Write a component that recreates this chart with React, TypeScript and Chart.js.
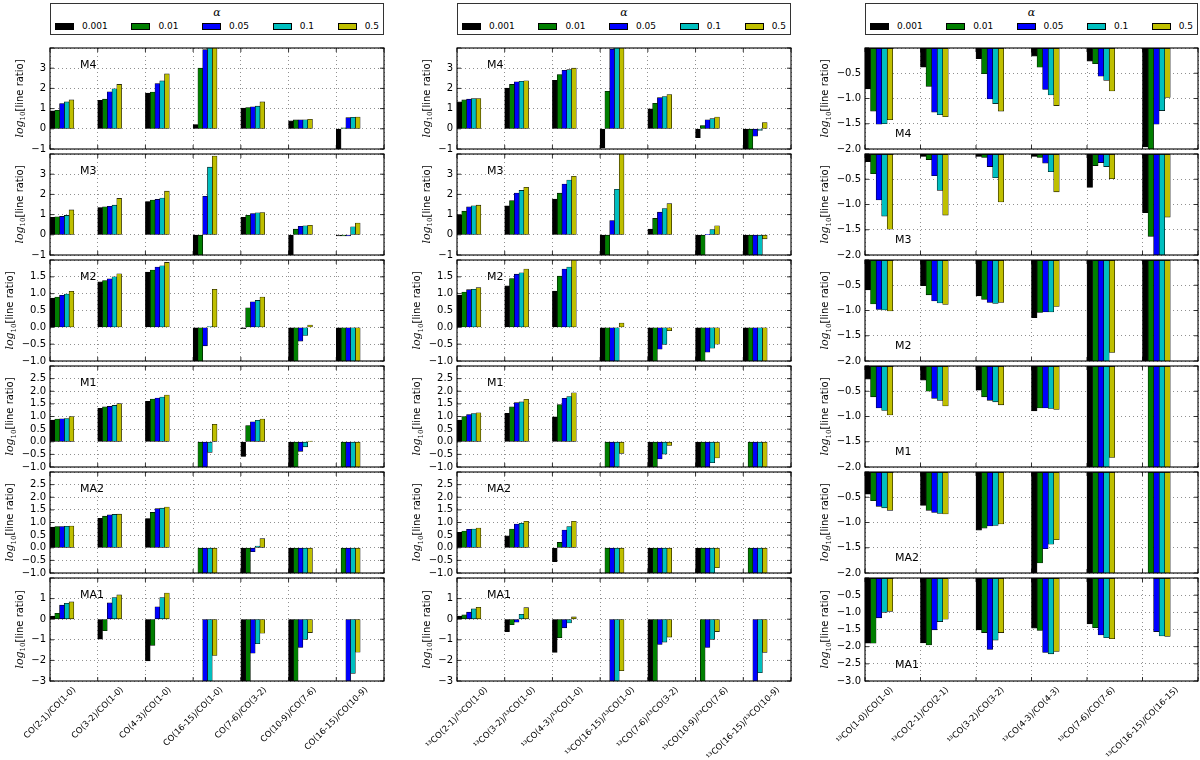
import { useEffect, useRef } from 'react'
import { Chart, registerables } from 'chart.js'

Chart.register(...registerables)
Chart.defaults.font.family = '"DejaVu Sans", sans-serif'
Chart.defaults.color = '#000'

const ALPHAS = ['0.001', '0.01', '0.05', '0.1', '0.5']
const COLORS = ['#000000', '#007f00', '#0000ff', '#00bfbf', '#bfbf00']
const MODELS = ['M4', 'M3', 'M2', 'M1', 'MA2', 'MA1']

const CO_LABELS = [
  'CO(2-1)/CO(1-0)',
  'CO(3-2)/CO(1-0)',
  'CO(4-3)/CO(1-0)',
  'CO(16-15)/CO(1-0)',
  'CO(7-6)/CO(3-2)',
  'CO(10-9)/CO(7-6)',
  'CO(16-15)/CO(10-9)',
]
const ISO_LABELS = [
  '¹³CO(2-1)/¹³CO(1-0)',
  '¹³CO(3-2)/¹³CO(1-0)',
  '¹³CO(4-3)/¹³CO(1-0)',
  '¹³CO(16-15)/¹³CO(1-0)',
  '¹³CO(7-6)/¹³CO(3-2)',
  '¹³CO(10-9)/¹³CO(7-6)',
  '¹³CO(16-15)/¹³CO(10-9)',
]
const RATIO_LABELS = [
  '¹³CO(1-0)/CO(1-0)',
  '¹³CO(2-1)/CO(2-1)',
  '¹³CO(3-2)/CO(3-2)',
  '¹³CO(4-3)/CO(4-3)',
  '¹³CO(7-6)/CO(7-6)',
  '¹³CO(16-15)/CO(16-15)',
]

// y axis [min, max, step] per row (top tick is pruned like the original)
const CO_Y = [[-1, 4, 1], [-1, 4, 1], [-1, 2, 0.5], [-1, 3, 0.5], [-1, 3, 0.5], [-3, 2, 1]]
const RATIO_Y = [[-2, 0, 0.5], [-2, 0, 0.5], [-2, 0, 0.5], [-2, 0, 0.5], [-2, 0, 0.5], [-3, 0, 0.5]]

// rows: alpha = 0.001, 0.01, 0.05, 0.1, 0.5 ; null = no bar
const CO_M4 = [
  [0.89, 1.41, 1.77, 0.21, 1.02, 0.39, -3],
  [0.92, 1.47, 1.82, 3.0, 1.05, 0.44, 0.05],
  [1.25, 1.83, 2.24, 3.92, 1.09, 0.45, 0.55],
  [1.33, 1.98, 2.37, 4.3, 1.12, 0.45, 0.57],
  [1.43, 2.2, 2.72, 4.6, 1.33, 0.47, 0.58],
]
const CO_M3 = [
  [0.86, 1.35, 1.65, -3, 0.86, -3, -0.05],
  [0.89, 1.39, 1.72, -3, 0.97, 0.28, -0.05],
  [0.91, 1.41, 1.75, 1.91, 1.05, 0.42, -0.05],
  [0.96, 1.47, 1.82, 3.35, 1.09, 0.45, 0.4],
  [1.23, 1.8, 2.16, 3.9, 1.1, 0.47, 0.58],
]
const CO_M2 = [
  [0.87, 1.35, 1.64, -3, -0.04, -3, -3],
  [0.9, 1.39, 1.7, -3, 0.58, -3, -3],
  [0.95, 1.44, 1.79, -0.55, 0.76, -0.41, -3],
  [0.99, 1.5, 1.83, 0.02, 0.8, -0.24, -3],
  [1.07, 1.59, 1.93, 1.13, 0.9, 0.07, -3],
]
const CO_M1 = [
  [0.86, 1.32, 1.6, null, -0.58, -3, null],
  [0.9, 1.38, 1.69, -3, 0.64, -3, -3],
  [0.91, 1.4, 1.73, -3, 0.79, -0.38, -3],
  [0.92, 1.44, 1.77, -0.42, 0.85, -0.2, -3],
  [1.0, 1.51, 1.85, 0.69, 0.9, 0.03, -3],
]
const CO_MA2 = [
  [0.82, 1.17, 1.16, null, -3, -3, null],
  [0.84, 1.25, 1.4, -3, -3, -3, -3],
  [0.84, 1.3, 1.55, -3, -0.16, -3, -3],
  [0.85, 1.32, 1.57, -3, 0.07, -3, -3],
  [0.86, 1.33, 1.61, -3, 0.36, -3, -3],
]
const CO_MA1 = [
  [0.15, -0.97, -2.03, null, -4, -4, null],
  [0.29, -0.56, -1.27, null, -4, -4, null],
  [0.68, 0.79, 0.6, -4, -1.65, -1.37, -4],
  [0.77, 1.05, 1.05, -4, -1.19, -0.98, -2.63],
  [0.84, 1.18, 1.27, -1.76, -0.68, -0.65, -1.6],
]

const ISO_M4 = [
  [1.33, 2.01, 2.4, -0.94, 0.99, -0.44, -3],
  [1.43, 2.2, 2.69, 1.86, 1.26, 0.16, -3],
  [1.47, 2.33, 2.9, 3.94, 1.54, 0.45, -0.37],
  [1.49, 2.35, 2.93, 4.2, 1.6, 0.5, -0.08],
  [1.5, 2.38, 3.0, 4.4, 1.7, 0.58, 0.31],
]
const ISO_M3 = [
  [0.97, 1.44, 1.77, -3, 0.28, -3, -3],
  [1.17, 1.69, 2.06, -3, 0.81, -3, -3],
  [1.38, 2.07, 2.51, 0.71, 1.12, 0.02, -3],
  [1.44, 2.2, 2.71, 2.25, 1.3, 0.26, -3],
  [1.47, 2.35, 2.9, 4.3, 1.54, 0.45, -0.2],
]
const ISO_M2 = [
  [0.95, 1.23, 1.08, -3, -3, -3, -3],
  [1.05, 1.45, 1.52, -3, -3, -3, -3],
  [1.12, 1.58, 1.73, -3, -0.65, -0.74, -3],
  [1.13, 1.62, 1.79, -3, -0.51, -0.62, -3],
  [1.18, 1.73, 2.02, 0.13, -0.1, -0.5, -3],
]
const ISO_M1 = [
  [0.86, 1.13, 0.99, null, -3, -3, null],
  [1.0, 1.38, 1.47, -3, -3, -3, -3],
  [1.08, 1.55, 1.72, -3, -0.68, -3, -3],
  [1.12, 1.58, 1.79, -3, -0.49, -0.83, -3],
  [1.15, 1.68, 1.94, -0.46, -0.15, -0.64, -3],
]
const ISO_MA2 = [
  [0.61, 0.47, -0.55, null, -3, -3, null],
  [0.66, 0.74, 0.21, -3, -3, -3, -3],
  [0.73, 0.94, 0.7, -3, -3, -3, -3],
  [0.74, 0.97, 0.84, -3, -3, -3, -3],
  [0.78, 1.05, 1.05, -3, -3, -0.79, -3],
]
const ISO_MA1 = [
  [0.15, -0.6, -1.61, null, -4, null, null],
  [0.21, -0.27, -0.9, null, -4, -4, null],
  [0.34, -0.15, -0.42, -4, -1.23, -1.37, -4],
  [0.5, 0.24, -0.18, -4, -1.11, -0.98, -2.6],
  [0.58, 0.56, 0.11, -2.5, -0.87, -0.6, -1.61],
]

const RATIO_M4 = [
  [-0.81, -0.38, -0.21, -0.16, -0.26, -1.96],
  [-1.25, -0.76, -0.51, -0.38, -0.31, -3],
  [-1.51, -1.27, -1.01, -0.82, -0.56, -1.51],
  [-1.5, -1.32, -1.1, -0.93, -0.64, -1.24],
  [-1.42, -1.36, -1.25, -1.14, -0.85, -0.98],
]
const RATIO_M3 = [
  [-0.15, -0.05, -0.05, -0.05, -0.66, -1.16],
  [-0.39, -0.11, -0.07, -0.07, -0.23, -1.63],
  [-0.91, -0.43, -0.25, -0.18, -0.17, -3],
  [-1.23, -0.72, -0.47, -0.35, -0.25, -3],
  [-1.49, -1.21, -0.95, -0.75, -0.49, -1.25],
]
const RATIO_M2 = [
  [-0.59, -0.51, -0.71, -1.14, -3, -3],
  [-0.87, -0.69, -0.78, -1.04, -3, -3],
  [-0.98, -0.81, -0.84, -1.03, -3, -3],
  [-0.99, -0.85, -0.86, -1.03, -3, -3],
  [-1.01, -0.88, -0.84, -0.92, -1.83, -3],
]
const RATIO_M1 = [
  [-0.26, -0.28, -0.48, -0.89, -3, null],
  [-0.61, -0.5, -0.61, -0.83, -3, -3],
  [-0.83, -0.64, -0.68, -0.83, -3, -3],
  [-0.88, -0.68, -0.71, -0.84, -3, -3],
  [-0.97, -0.79, -0.77, -0.86, -1.81, -3],
]
const RATIO_MA2 = [
  [-0.44, -0.66, -1.15, -3, -3, null],
  [-0.57, -0.76, -1.11, -1.8, -3, -3],
  [-0.68, -0.8, -1.07, -1.52, -3, -3],
  [-0.71, -0.82, -1.06, -1.43, -3, -3],
  [-0.76, -0.83, -1.03, -1.34, -3, -3],
]
const RATIO_MA1 = [
  [-1.9, -1.89, -1.51, -1.46, -1.34, null],
  [-1.9, -1.95, -1.59, -1.53, -1.45, null],
  [-1.16, -1.51, -2.08, -2.17, -1.66, -1.56],
  [-1.0, -1.27, -1.81, -2.21, -1.74, -1.69],
  [-0.97, -1.2, -1.59, -2.14, -1.77, -1.7],
]

const CO_PANELS = [CO_M4, CO_M3, CO_M2, CO_M1, CO_MA2, CO_MA1]
const ISO_PANELS = [ISO_M4, ISO_M3, ISO_M2, ISO_M1, ISO_MA2, ISO_MA1]
const RATIO_PANELS = [RATIO_M4, RATIO_M3, RATIO_M2, RATIO_M1, RATIO_MA2, RATIO_MA1]

// layout
const COL_LEFT = [50, 457, 865]
const COL_W = [334, 334, 333]
const ROW_TOP = 46
const ROW_STEP = 106
const PLOT_H = 105
const AXIS_W = 50
const PAD_T = 8
const PAD_R = 2
const PAD_LAB = 78
const BAR_W = 0.1
const GRID = 'rgba(0,0,0,0.55)'
const XLAB_SIZE = 8.5

type PanelProps = {
  labels: string[]
  values: (number | null)[][]
  name: string
  yr: number[]
  nameLow: boolean
  last: boolean
  left: number
  top: number
  plotW: number
}

function fmt(v: number, step: number) {
  const n = Math.abs(v) < 1e-9 ? 0 : v
  return (step < 1 ? n.toFixed(1) : n.toFixed(0)).replace('-', '\u2212')
}

function Panel({ labels, values, name, yr, nameLow, last, left, top, plotW }: PanelProps) {
  const chartRef = useRef<HTMLCanvasElement>(null)

  useEffect(() => {
    const [yMin, yMax, yStep] = yr
    const padB = last ? PAD_LAB : PAD_T

    const decor = {
      id: 'decor',
      afterDraw(c: any) {
        const { ctx, chartArea: a } = c
        const xs = c.scales.x
        const ys = c.scales.y
        ctx.save()

        // inward tick marks + frame
        ctx.strokeStyle = '#000'
        ctx.lineWidth = 0.8
        ctx.beginPath()
        ys.ticks.forEach((t: any) => {
          const y = ys.getPixelForValue(t.value)
          ctx.moveTo(a.left, y)
          ctx.lineTo(a.left + 4, y)
          ctx.moveTo(a.right, y)
          ctx.lineTo(a.right - 4, y)
        })
        xs.ticks.forEach((t: any) => {
          const x = xs.getPixelForValue(t.value)
          ctx.moveTo(x, a.bottom)
          ctx.lineTo(x, a.bottom - 4)
          ctx.moveTo(x, a.top)
          ctx.lineTo(x, a.top + 4)
        })
        ctx.stroke()
        ctx.lineWidth = 1.1
        ctx.strokeRect(a.left, a.top, a.right - a.left, a.bottom - a.top)

        // model name
        ctx.fillStyle = '#000'
        ctx.font = '11px "DejaVu Sans"'
        ctx.textAlign = 'left'
        ctx.textBaseline = 'middle'
        ctx.fillText(name, a.left + 0.09 * a.width, a.top + (nameLow ? 0.85 : 0.165) * a.height)

        // y title: log_10[line ratio], placed left of the widest tick label
        ctx.font = '10px "DejaVu Sans"'
        const maxW = Math.max(...ys.ticks.map((t: any) => ctx.measureText(String(t.label ?? '')).width))
        const tx = a.left - 4 - maxW - 12
        const parts = [
          { t: 'log', f: 'italic 11px "DejaVu Serif"', dy: 0 },
          { t: '10', f: '7px "DejaVu Serif"', dy: 2.5 },
          { t: '[line ratio]', f: '10px "DejaVu Sans"', dy: 0 },
        ]
        let total = 0
        const widths = parts.map((p) => {
          ctx.font = p.f
          const w = ctx.measureText(p.t).width
          total += w
          return w
        })
        ctx.translate(tx, (a.top + a.bottom) / 2)
        ctx.rotate(-Math.PI / 2)
        ctx.textBaseline = 'alphabetic'
        let px = -total / 2
        parts.forEach((p, k) => {
          ctx.font = p.f
          ctx.fillText(p.t, px, 3.5 + p.dy)
          px += widths[k]
        })
        ctx.restore()

        // rotated category labels, centred on each tick
        if (last) {
          ctx.save()
          ctx.font = XLAB_SIZE + 'px "DejaVu Sans"'
          ctx.fillStyle = '#000'
          ctx.textAlign = 'center'
          ctx.textBaseline = 'middle'
          labels.forEach((lab, i) => {
            const w = ctx.measureText(lab).width
            const half = ((w + XLAB_SIZE * 1.17) * Math.SQRT1_2) / 2
            ctx.save()
            ctx.translate(xs.getPixelForValue(i), a.bottom + 4 + half)
            ctx.rotate(-Math.PI / 4)
            ctx.fillText(lab, 0, 0)
            ctx.restore()
          })
          ctx.restore()
        }
      },
    }

    const chart = new Chart(chartRef.current as HTMLCanvasElement, {
      type: 'bar',
      data: {
        datasets: ALPHAS.map((a, j) => ({
          label: a,
          data: values[j].map((v, i) => ({ x: i + (j + 0.5) * BAR_W, y: v })),
          backgroundColor: COLORS[j],
          borderColor: '#000',
          borderWidth: 0.6,
          borderSkipped: false,
          grouped: false,
          barPercentage: 1,
          categoryPercentage: 1,
          clip: 0,
        })) as any,
      },
      options: {
        animation: false,
        responsive: true,
        maintainAspectRatio: false,
        events: [],
        layout: { padding: { left: 0, right: PAD_R, top: PAD_T, bottom: padB } },
        plugins: {
          legend: { display: false },
          tooltip: { enabled: false },
        },
        scales: {
          x: {
            type: 'linear',
            min: 0,
            max: labels.length,
            offset: false,
            ticks: { stepSize: 1, display: false },
            grid: { color: GRID, lineWidth: 0.8, drawTicks: false, offset: false },
            border: { display: false, dash: [1, 3] },
            afterFit: (s: any) => {
              s.height = 0
            },
          },
          y: {
            type: 'linear',
            min: yMin,
            max: yMax,
            ticks: {
              stepSize: yStep,
              autoSkip: false,
              padding: 4,
              font: { size: 10 },
              color: '#000',
              callback: (v: any) => (Math.abs(Number(v) - yMax) < 1e-9 ? '' : fmt(Number(v), yStep)),
            },
            grid: { color: GRID, lineWidth: 0.8, drawTicks: false },
            border: { display: false, dash: [1, 3] },
            afterFit: (s: any) => {
              s.width = AXIS_W
            },
          },
        } as any,
      },
      plugins: [decor],
    })

    return () => {
      chart.destroy()
    }
    // eslint-disable-next-line react-hooks/exhaustive-deps
  }, [])

  return (
    <div
      style={{
        position: 'absolute',
        left: left - AXIS_W,
        top: top - PAD_T,
        width: AXIS_W + plotW + PAD_R,
        height: PLOT_H + PAD_T + (last ? PAD_LAB : PAD_T),
      }}
    >
      <canvas ref={chartRef} />
    </div>
  )
}

function Legend({ left, width }: { left: number; width: number }) {
  return (
    <div
      style={{
        position: 'absolute',
        left,
        top: 3,
        width,
        height: 32,
        boxSizing: 'border-box',
        border: '1px solid #333',
        fontFamily: '"DejaVu Sans"',
        fontSize: 9,
        background: '#fff',
      }}
    >
      <div
        style={{
          textAlign: 'center',
          fontFamily: '"DejaVu Serif"',
          fontStyle: 'italic',
          fontSize: 11,
          lineHeight: '12px',
          marginTop: 3,
        }}
      >
        α
      </div>
      <div
        style={{
          display: 'flex',
          justifyContent: 'space-between',
          alignItems: 'center',
          padding: '0 4px',
          marginTop: 2,
          lineHeight: '11px',
        }}
      >
        {ALPHAS.map((a, j) => (
          <div key={a} style={{ display: 'flex', alignItems: 'center' }}>
            <span
              style={{
                display: 'inline-block',
                width: 19,
                height: 7,
                boxSizing: 'border-box',
                border: '1px solid #000',
                background: COLORS[j],
                marginRight: 8,
              }}
            />
            <span>{a}</span>
          </div>
        ))}
      </div>
    </div>
  )
}

export default function App() {
  const cols = [
    { labels: CO_LABELS, panels: CO_PANELS, ys: CO_Y, low: false },
    { labels: ISO_LABELS, panels: ISO_PANELS, ys: CO_Y, low: false },
    { labels: RATIO_LABELS, panels: RATIO_PANELS, ys: RATIO_Y, low: true },
  ]
  return (
    <div
      style={{
        position: 'absolute',
        left: 0,
        top: 0,
        width: 1200,
        height: 760,
        background: '#fff',
        overflow: 'hidden',
      }}
    >
      {cols.map((col, c) => (
        <div key={c}>
          <Legend left={COL_LEFT[c]} width={COL_W[c]} />
          {MODELS.map((m, r) => (
            <Panel
              key={m}
              labels={col.labels}
              values={col.panels[r]}
              name={m}
              yr={col.ys[r]}
              nameLow={col.low}
              last={r === MODELS.length - 1}
              left={COL_LEFT[c]}
              top={ROW_TOP + r * ROW_STEP}
              plotW={COL_W[c]}
            />
          ))}
        </div>
      ))}
    </div>
  )
}
